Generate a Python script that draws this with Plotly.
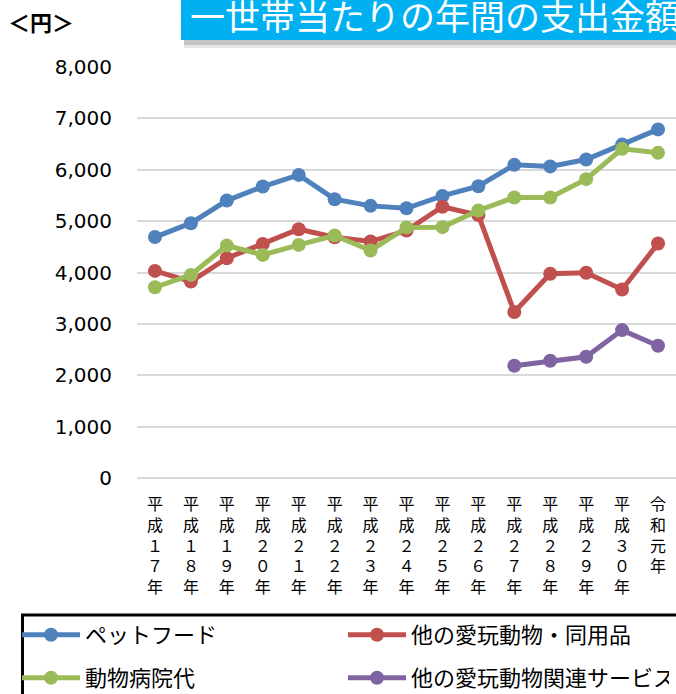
import plotly.graph_objects as go

# ---- data ----
years = ["平成17年", "平成18年", "平成19年", "平成20年", "平成21年", "平成22年", "平成23年",
         "平成24年", "平成25年", "平成26年", "平成27年", "平成28年", "平成29年", "平成30年", "令和元年"]
tick_chars = [["平", "成", "１", "７", "年"], ["平", "成", "１", "８", "年"], ["平", "成", "１", "９", "年"],
              ["平", "成", "２", "０", "年"], ["平", "成", "２", "１", "年"], ["平", "成", "２", "２", "年"],
              ["平", "成", "２", "３", "年"], ["平", "成", "２", "４", "年"], ["平", "成", "２", "５", "年"],
              ["平", "成", "２", "６", "年"], ["平", "成", "２", "７", "年"], ["平", "成", "２", "８", "年"],
              ["平", "成", "２", "９", "年"], ["平", "成", "３", "０", "年"], ["令", "和", "元", "年"]]
pet_food = [4690, 4960, 5400, 5673, 5900, 5427, 5297, 5250, 5490, 5680, 6095, 6065, 6200, 6490, 6785]
other_goods = [4031, 3823, 4278, 4557, 4843, 4687, 4602, 4816, 5280, 5117, 3230, 3975, 3995, 3670, 4565]
vet_fees = [3713, 3953, 4524, 4343, 4537, 4719, 4427, 4875, 4883, 5208, 5461, 5461, 5817, 6407, 6329]
other_services = [None, None, None, None, None, None, None, None, None, None, 2185, 2282, 2360, 2879, 2574]
y_ticks = [0, 1000, 2000, 3000, 4000, 5000, 6000, 7000, 8000]

series = [
    ("ペットフード", pet_food, "#4F81BD", "legend"),
    ("他の愛玩動物・同用品", other_goods, "#C0504D", "legend"),
    ("動物病院代", vet_fees, "#9BBB59", "legend2"),
    ("他の愛玩動物関連サービス", other_services, "#8064A2", "legend2"),
]

W, H = 676, 694
L, R, T, B = 137, 0, 67, 216
pw, ph = W - L - R, H - T - B


def px_x(p):
    return (p - L) / pw


def px_y(p):
    return (H - B - p) / ph


fig = go.Figure()
for name, vals, color, lg in series:
    fig.add_trace(go.Scatter(
        x=years, y=vals, name=name, mode="lines+markers",
        line=dict(color=color, width=5),
        marker=dict(color=color, size=14),
        legend=lg, connectgaps=False, cliponaxis=False,
    ))

cjk = "Noto Sans CJK JP"
leg_common = dict(orientation="h", xanchor="left", yanchor="middle",
                  itemwidth=58, entrywidth=253, entrywidthmode="pixels",
                  font=dict(family=cjk, size=22, color="black"), bgcolor="rgba(0,0,0,0)")
fig.update_layout(
    width=W, height=H,
    margin=dict(l=L, r=R, t=T, b=B, autoexpand=False),
    paper_bgcolor="white", plot_bgcolor="white",
    font=dict(family="DejaVu Sans, " + cjk, color="black"),
    showlegend=True,
    legend=dict(x=px_x(17), y=px_y(635), **leg_common),
    legend2=dict(x=px_x(17), y=px_y(678), **leg_common),
)

fig.update_xaxes(
    type="category", range=[-0.5, len(years) - 0.5],
    tickvals=years, ticktext=["<br>".join(c) for c in tick_chars],
    tickfont=dict(family=cjk, size=16, color="black"),
    showgrid=False, showline=False, zeroline=False, ticks="",
    ticklabelstandoff=15,
)
fig.update_yaxes(
    range=[0, 8000], tickvals=y_ticks, tickformat=",d",
    tickfont=dict(family="DejaVu Sans", size=20, color="black"),
    showgrid=True, gridcolor="#D9D9D9", gridwidth=2,
    zeroline=True, zerolinecolor="#D9D9D9", zerolinewidth=2,
    showline=False, ticks="", ticklabelstandoff=24,
)

shapes = [
    # title shadow
    dict(type="rect", xref="paper", yref="paper", x0=px_x(184), x1=1.0, y0=px_y(48), y1=px_y(38),
         fillcolor="rgba(0,0,0,0.10)", line=dict(width=0), layer="above"),
    dict(type="rect", xref="paper", yref="paper", x0=px_x(184), x1=1.0, y0=px_y(45), y1=px_y(38),
         fillcolor="rgba(0,0,0,0.15)", line=dict(width=0), layer="above"),
    # title box
    dict(type="rect", xref="paper", yref="paper", x0=px_x(181), x1=1.0, y0=px_y(40), y1=px_y(0),
         fillcolor="#00B0F0", line=dict(width=0), layer="above"),
    # legend border (top and left edges; the rest lies outside the picture)
    dict(type="line", xref="paper", yref="paper", x0=px_x(21), x1=1.0, y0=px_y(615), y1=px_y(615),
         line=dict(color="black", width=3), layer="above"),
    dict(type="line", xref="paper", yref="paper", x0=px_x(22.5), x1=px_x(22.5), y0=px_y(614), y1=px_y(H),
         line=dict(color="black", width=3), layer="above"),
]
fig.update_layout(shapes=shapes)

fig.add_annotation(xref="paper", yref="paper", x=px_x(188), y=px_y(14), xanchor="left", yanchor="middle",
                   text="一世帯当たりの年間の支出金額", showarrow=False,
                   font=dict(family=cjk, size=35, color="white"))
fig.add_annotation(xref="paper", yref="paper", x=px_x(6), y=px_y(21), xanchor="left", yanchor="middle",
                   text="<b>＜円＞</b>", showarrow=False,
                   font=dict(family=cjk, size=22, color="black"))

fig.write_html("out.html", config={"displayModeBar": False, "staticPlot": True},
               post_script=("document.documentElement.style.overflow='hidden';"
                            "document.body.style.margin='0';document.body.style.overflow='hidden';"))
